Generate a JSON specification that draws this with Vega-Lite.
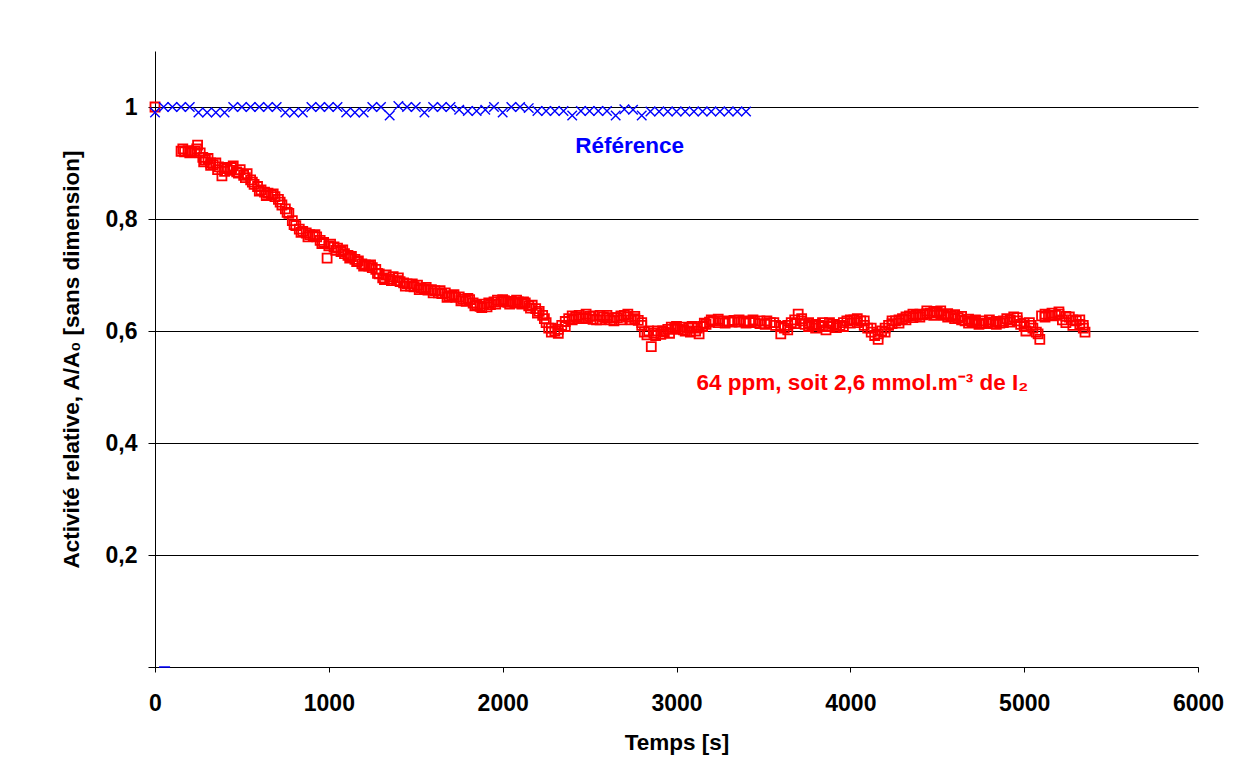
{
  "$schema": "https://vega.github.io/schema/vega-lite/v6.json",
  "width": 1043,
  "height": 616,
  "autosize": {"type": "none"},
  "padding": {"left": 155, "top": 51, "right": 40, "bottom": 116},
  "background": "white",
  "config": {
    "view": {"stroke": null},
    "font": "Liberation Sans",
    "axis": {
      "labelFont": "Liberation Sans",
      "titleFont": "Liberation Sans",
      "labelFontWeight": "bold",
      "titleFontWeight": "bold",
      "labelFontSize": 23,
      "titleFontSize": 22.5,
      "labelColor": "#000",
      "titleColor": "#000",
      "domainColor": "#000",
      "tickColor": "#000",
      "domainWidth": 1,
      "tickWidth": 1
    }
  },
  "datasets": {
    "ref": [
      {"t": 0, "a": 0.99}, {"t": 50, "a": 1.0}, {"t": 100, "a": 1.0}, {"t": 150, "a": 1.0}, {"t": 200, "a": 1.0},
      {"t": 250, "a": 0.99}, {"t": 300, "a": 0.99}, {"t": 350, "a": 0.99}, {"t": 400, "a": 0.99},
      {"t": 450, "a": 1.0}, {"t": 500, "a": 1.0}, {"t": 550, "a": 1.0}, {"t": 600, "a": 1.0}, {"t": 650, "a": 1.0}, {"t": 700, "a": 1.0},
      {"t": 750, "a": 0.99}, {"t": 800, "a": 0.99}, {"t": 850, "a": 0.99},
      {"t": 900, "a": 1.0}, {"t": 950, "a": 1.0}, {"t": 1000, "a": 1.0}, {"t": 1050, "a": 1.0},
      {"t": 1100, "a": 0.99}, {"t": 1150, "a": 0.99}, {"t": 1200, "a": 0.99},
      {"t": 1250, "a": 1.0}, {"t": 1300, "a": 1.0}, {"t": 1350, "a": 0.985},
      {"t": 1400, "a": 1.002}, {"t": 1450, "a": 1.0}, {"t": 1500, "a": 1.0}, {"t": 1550, "a": 0.99},
      {"t": 1600, "a": 1.0}, {"t": 1650, "a": 1.0}, {"t": 1700, "a": 1.0},
      {"t": 1750, "a": 0.995}, {"t": 1800, "a": 0.993}, {"t": 1850, "a": 0.993}, {"t": 1900, "a": 0.995},
      {"t": 1950, "a": 1.0}, {"t": 2000, "a": 0.99}, {"t": 2050, "a": 1.0}, {"t": 2100, "a": 1.0}, {"t": 2150, "a": 0.998},
      {"t": 2200, "a": 0.993}, {"t": 2250, "a": 0.993}, {"t": 2300, "a": 0.993}, {"t": 2350, "a": 0.993},
      {"t": 2400, "a": 0.985}, {"t": 2450, "a": 0.993}, {"t": 2500, "a": 0.993}, {"t": 2550, "a": 0.993}, {"t": 2600, "a": 0.993},
      {"t": 2650, "a": 0.985}, {"t": 2700, "a": 0.996}, {"t": 2750, "a": 0.995}, {"t": 2800, "a": 0.985},
      {"t": 2850, "a": 0.992}, {"t": 2900, "a": 0.992}, {"t": 2950, "a": 0.992}, {"t": 3000, "a": 0.992},
      {"t": 3050, "a": 0.992}, {"t": 3100, "a": 0.992}, {"t": 3150, "a": 0.992}, {"t": 3200, "a": 0.992},
      {"t": 3250, "a": 0.992}, {"t": 3300, "a": 0.992}, {"t": 3350, "a": 0.992}, {"t": 3400, "a": 0.992}
    ],
    "ref0": [{"t": 55, "a": 0}],
    "labels": [
      {"label": "Référence", "series": "ref"},
      {"label": "64 ppm, soit 2,6 mmol.m⁻³ de I₂", "series": "exp"}
    ],
    "exp": [
      {"t": 0, "a": 1.0}, {"t": 150, "a": 0.921}, {"t": 170, "a": 0.92}, {"t": 190, "a": 0.922}, {"t": 210, "a": 0.92},
      {"t": 230, "a": 0.921}, {"t": 245, "a": 0.932}, {"t": 260, "a": 0.918}, {"t": 275, "a": 0.91}, {"t": 290, "a": 0.905},
      {"t": 305, "a": 0.908}, {"t": 320, "a": 0.9}, {"t": 335, "a": 0.897}, {"t": 350, "a": 0.9}, {"t": 365, "a": 0.893},
      {"t": 385, "a": 0.877}, {"t": 400, "a": 0.892}, {"t": 415, "a": 0.89}, {"t": 430, "a": 0.887}, {"t": 450, "a": 0.895},
      {"t": 470, "a": 0.884}, {"t": 490, "a": 0.888}, {"t": 510, "a": 0.878}, {"t": 530, "a": 0.881}, {"t": 550, "a": 0.87},
      {"t": 570, "a": 0.862}, {"t": 590, "a": 0.858}, {"t": 610, "a": 0.852}, {"t": 630, "a": 0.848}, {"t": 650, "a": 0.846},
      {"t": 670, "a": 0.843}, {"t": 690, "a": 0.84}, {"t": 710, "a": 0.835}, {"t": 730, "a": 0.825}, {"t": 750, "a": 0.818},
      {"t": 770, "a": 0.81}, {"t": 790, "a": 0.797}, {"t": 810, "a": 0.788}, {"t": 830, "a": 0.782}, {"t": 850, "a": 0.778},
      {"t": 870, "a": 0.775}, {"t": 890, "a": 0.772}, {"t": 910, "a": 0.769}, {"t": 930, "a": 0.768}, {"t": 950, "a": 0.762},
      {"t": 970, "a": 0.758}, {"t": 990, "a": 0.73}, {"t": 1010, "a": 0.755}, {"t": 1030, "a": 0.75}, {"t": 1050, "a": 0.748},
      {"t": 1070, "a": 0.742}, {"t": 1090, "a": 0.738}, {"t": 1110, "a": 0.735}, {"t": 1130, "a": 0.733}, {"t": 1150, "a": 0.728},
      {"t": 1170, "a": 0.725}, {"t": 1190, "a": 0.72}, {"t": 1210, "a": 0.718}, {"t": 1230, "a": 0.716}, {"t": 1250, "a": 0.713},
      {"t": 1270, "a": 0.71}, {"t": 1290, "a": 0.702}, {"t": 1310, "a": 0.695}, {"t": 1330, "a": 0.7}, {"t": 1350, "a": 0.693},
      {"t": 1370, "a": 0.697}, {"t": 1390, "a": 0.69}, {"t": 1410, "a": 0.688}, {"t": 1430, "a": 0.686}, {"t": 1450, "a": 0.684},
      {"t": 1470, "a": 0.68}, {"t": 1490, "a": 0.679}, {"t": 1510, "a": 0.682}, {"t": 1530, "a": 0.677}, {"t": 1550, "a": 0.675},
      {"t": 1570, "a": 0.673}, {"t": 1590, "a": 0.674}, {"t": 1610, "a": 0.672}, {"t": 1630, "a": 0.668}, {"t": 1650, "a": 0.667},
      {"t": 1670, "a": 0.668}, {"t": 1690, "a": 0.663}, {"t": 1710, "a": 0.662}, {"t": 1730, "a": 0.66}, {"t": 1750, "a": 0.661},
      {"t": 1770, "a": 0.657}, {"t": 1790, "a": 0.653}, {"t": 1810, "a": 0.656}, {"t": 1830, "a": 0.65}, {"t": 1850, "a": 0.647},
      {"t": 1870, "a": 0.644}, {"t": 1890, "a": 0.648}, {"t": 1910, "a": 0.643}, {"t": 1930, "a": 0.647}, {"t": 1950, "a": 0.652},
      {"t": 1970, "a": 0.655}, {"t": 1990, "a": 0.652}, {"t": 2010, "a": 0.654}, {"t": 2030, "a": 0.651}, {"t": 2050, "a": 0.653},
      {"t": 2070, "a": 0.65}, {"t": 2090, "a": 0.652}, {"t": 2110, "a": 0.648}, {"t": 2130, "a": 0.65}, {"t": 2150, "a": 0.645},
      {"t": 2170, "a": 0.646}, {"t": 2190, "a": 0.64}, {"t": 2210, "a": 0.635}, {"t": 2230, "a": 0.628}, {"t": 2250, "a": 0.615},
      {"t": 2265, "a": 0.605}, {"t": 2280, "a": 0.598}, {"t": 2300, "a": 0.6}, {"t": 2320, "a": 0.603}, {"t": 2340, "a": 0.61},
      {"t": 2360, "a": 0.617}, {"t": 2380, "a": 0.622}, {"t": 2400, "a": 0.627}, {"t": 2420, "a": 0.625}, {"t": 2440, "a": 0.628},
      {"t": 2460, "a": 0.622}, {"t": 2480, "a": 0.624}, {"t": 2500, "a": 0.626}, {"t": 2520, "a": 0.621}, {"t": 2540, "a": 0.62},
      {"t": 2560, "a": 0.628}, {"t": 2580, "a": 0.625}, {"t": 2600, "a": 0.623}, {"t": 2620, "a": 0.62}, {"t": 2640, "a": 0.618},
      {"t": 2660, "a": 0.624}, {"t": 2680, "a": 0.627}, {"t": 2700, "a": 0.628}, {"t": 2720, "a": 0.625}, {"t": 2740, "a": 0.62},
      {"t": 2760, "a": 0.622}, {"t": 2780, "a": 0.619}, {"t": 2800, "a": 0.61}, {"t": 2815, "a": 0.598}, {"t": 2830, "a": 0.593},
      {"t": 2855, "a": 0.572}, {"t": 2870, "a": 0.596}, {"t": 2890, "a": 0.6}, {"t": 2910, "a": 0.594}, {"t": 2930, "a": 0.598},
      {"t": 2950, "a": 0.603}, {"t": 2970, "a": 0.607}, {"t": 2990, "a": 0.605}, {"t": 3010, "a": 0.603}, {"t": 3030, "a": 0.607},
      {"t": 3050, "a": 0.6}, {"t": 3070, "a": 0.605}, {"t": 3090, "a": 0.608}, {"t": 3110, "a": 0.6}, {"t": 3130, "a": 0.595},
      {"t": 3150, "a": 0.608}, {"t": 3170, "a": 0.612}, {"t": 3190, "a": 0.616}, {"t": 3210, "a": 0.618}, {"t": 3240, "a": 0.615},
      {"t": 3270, "a": 0.618}, {"t": 3300, "a": 0.617}, {"t": 3330, "a": 0.619}, {"t": 3360, "a": 0.616}, {"t": 3390, "a": 0.618},
      {"t": 3420, "a": 0.617}, {"t": 3450, "a": 0.615}, {"t": 3480, "a": 0.618}, {"t": 3510, "a": 0.612}, {"t": 3540, "a": 0.615},
      {"t": 3570, "a": 0.61}, {"t": 3600, "a": 0.595}, {"t": 3620, "a": 0.605}, {"t": 3640, "a": 0.61}, {"t": 3660, "a": 0.615},
      {"t": 3680, "a": 0.62}, {"t": 3700, "a": 0.63}, {"t": 3720, "a": 0.618}, {"t": 3740, "a": 0.612}, {"t": 3760, "a": 0.608},
      {"t": 3780, "a": 0.61}, {"t": 3800, "a": 0.605}, {"t": 3820, "a": 0.61}, {"t": 3840, "a": 0.615}, {"t": 3860, "a": 0.602},
      {"t": 3880, "a": 0.608}, {"t": 3900, "a": 0.612}, {"t": 3920, "a": 0.606}, {"t": 3940, "a": 0.61}, {"t": 3960, "a": 0.615},
      {"t": 3980, "a": 0.618}, {"t": 4000, "a": 0.614}, {"t": 4020, "a": 0.62}, {"t": 4040, "a": 0.622}, {"t": 4060, "a": 0.618},
      {"t": 4080, "a": 0.61}, {"t": 4100, "a": 0.605}, {"t": 4120, "a": 0.598}, {"t": 4140, "a": 0.592}, {"t": 4160, "a": 0.585},
      {"t": 4180, "a": 0.6}, {"t": 4200, "a": 0.605}, {"t": 4220, "a": 0.61}, {"t": 4240, "a": 0.613}, {"t": 4260, "a": 0.618},
      {"t": 4280, "a": 0.62}, {"t": 4300, "a": 0.622}, {"t": 4320, "a": 0.625}, {"t": 4340, "a": 0.627}, {"t": 4360, "a": 0.624},
      {"t": 4380, "a": 0.628}, {"t": 4400, "a": 0.63}, {"t": 4420, "a": 0.629}, {"t": 4440, "a": 0.631}, {"t": 4460, "a": 0.632},
      {"t": 4480, "a": 0.635}, {"t": 4500, "a": 0.633}, {"t": 4520, "a": 0.63}, {"t": 4540, "a": 0.628}, {"t": 4560, "a": 0.631},
      {"t": 4580, "a": 0.626}, {"t": 4600, "a": 0.629}, {"t": 4620, "a": 0.624}, {"t": 4640, "a": 0.62}, {"t": 4660, "a": 0.618},
      {"t": 4680, "a": 0.621}, {"t": 4700, "a": 0.617}, {"t": 4720, "a": 0.615}, {"t": 4740, "a": 0.612}, {"t": 4760, "a": 0.618},
      {"t": 4780, "a": 0.614}, {"t": 4800, "a": 0.616}, {"t": 4820, "a": 0.613}, {"t": 4840, "a": 0.617}, {"t": 4860, "a": 0.614},
      {"t": 4880, "a": 0.618}, {"t": 4900, "a": 0.622}, {"t": 4920, "a": 0.62}, {"t": 4940, "a": 0.625}, {"t": 4960, "a": 0.618},
      {"t": 4980, "a": 0.612}, {"t": 5000, "a": 0.608}, {"t": 5010, "a": 0.6}, {"t": 5030, "a": 0.615}, {"t": 5050, "a": 0.605},
      {"t": 5070, "a": 0.598}, {"t": 5090, "a": 0.585}, {"t": 5100, "a": 0.627}, {"t": 5120, "a": 0.63}, {"t": 5140, "a": 0.628},
      {"t": 5160, "a": 0.632}, {"t": 5180, "a": 0.628}, {"t": 5200, "a": 0.63}, {"t": 5220, "a": 0.62}, {"t": 5240, "a": 0.615},
      {"t": 5260, "a": 0.625}, {"t": 5280, "a": 0.61}, {"t": 5300, "a": 0.618}, {"t": 5320, "a": 0.612}, {"t": 5340, "a": 0.605},
      {"t": 5350, "a": 0.598},
      {"t": 160, "a": 0.925}, {"t": 200, "a": 0.918}, {"t": 240, "a": 0.925}, {"t": 280, "a": 0.902}, {"t": 320, "a": 0.896},
      {"t": 360, "a": 0.888}, {"t": 400, "a": 0.885}, {"t": 440, "a": 0.892}, {"t": 480, "a": 0.882}, {"t": 520, "a": 0.874},
      {"t": 560, "a": 0.866}, {"t": 600, "a": 0.85}, {"t": 640, "a": 0.842}, {"t": 680, "a": 0.845}, {"t": 720, "a": 0.83},
      {"t": 760, "a": 0.812}, {"t": 800, "a": 0.79}, {"t": 840, "a": 0.776}, {"t": 880, "a": 0.768}, {"t": 920, "a": 0.772},
      {"t": 960, "a": 0.756}, {"t": 1000, "a": 0.752}, {"t": 1040, "a": 0.744}, {"t": 1080, "a": 0.745}, {"t": 1120, "a": 0.73},
      {"t": 1160, "a": 0.724}, {"t": 1200, "a": 0.716}, {"t": 1240, "a": 0.718}, {"t": 1280, "a": 0.703}, {"t": 1320, "a": 0.692},
      {"t": 1360, "a": 0.69}, {"t": 1400, "a": 0.695}, {"t": 1440, "a": 0.68}, {"t": 1480, "a": 0.684}, {"t": 1520, "a": 0.674},
      {"t": 1560, "a": 0.678}, {"t": 1600, "a": 0.668}, {"t": 1640, "a": 0.672}, {"t": 1680, "a": 0.66}, {"t": 1720, "a": 0.665},
      {"t": 1760, "a": 0.654}, {"t": 1800, "a": 0.658}, {"t": 1840, "a": 0.645}, {"t": 1880, "a": 0.642}, {"t": 1920, "a": 0.65},
      {"t": 1960, "a": 0.648}, {"t": 2000, "a": 0.656}, {"t": 2040, "a": 0.648}, {"t": 2080, "a": 0.655}, {"t": 2120, "a": 0.652},
      {"t": 2160, "a": 0.641}, {"t": 2200, "a": 0.632}, {"t": 2240, "a": 0.622}, {"t": 2280, "a": 0.605}, {"t": 2320, "a": 0.596},
      {"t": 2360, "a": 0.608}, {"t": 2400, "a": 0.62}, {"t": 2440, "a": 0.622}, {"t": 2480, "a": 0.63}, {"t": 2520, "a": 0.627},
      {"t": 2560, "a": 0.62}, {"t": 2600, "a": 0.628}, {"t": 2640, "a": 0.624}, {"t": 2680, "a": 0.62}, {"t": 2720, "a": 0.63},
      {"t": 2760, "a": 0.626}, {"t": 2800, "a": 0.615}, {"t": 2840, "a": 0.6}, {"t": 2880, "a": 0.592}, {"t": 2920, "a": 0.6},
      {"t": 2960, "a": 0.596}, {"t": 3000, "a": 0.608}, {"t": 3040, "a": 0.602}, {"t": 3080, "a": 0.598}, {"t": 3120, "a": 0.605},
      {"t": 3160, "a": 0.614}, {"t": 3200, "a": 0.62}, {"t": 3240, "a": 0.621}, {"t": 3280, "a": 0.614}, {"t": 3320, "a": 0.616},
      {"t": 3360, "a": 0.62}, {"t": 3400, "a": 0.614}, {"t": 3440, "a": 0.62}, {"t": 3480, "a": 0.613}, {"t": 3520, "a": 0.618},
      {"t": 3560, "a": 0.615}, {"t": 3600, "a": 0.608}, {"t": 3640, "a": 0.602}, {"t": 3680, "a": 0.613}, {"t": 3720, "a": 0.622},
      {"t": 3760, "a": 0.615}, {"t": 3800, "a": 0.612}, {"t": 3840, "a": 0.608}, {"t": 3880, "a": 0.615}, {"t": 3920, "a": 0.61},
      {"t": 3960, "a": 0.608}, {"t": 4000, "a": 0.62}, {"t": 4040, "a": 0.615}, {"t": 4080, "a": 0.618}, {"t": 4120, "a": 0.605},
      {"t": 4160, "a": 0.595}, {"t": 4200, "a": 0.598}, {"t": 4240, "a": 0.618}, {"t": 4280, "a": 0.614}, {"t": 4320, "a": 0.62},
      {"t": 4360, "a": 0.63}, {"t": 4400, "a": 0.625}, {"t": 4440, "a": 0.636}, {"t": 4480, "a": 0.628}, {"t": 4520, "a": 0.636},
      {"t": 4560, "a": 0.625}, {"t": 4600, "a": 0.622}, {"t": 4640, "a": 0.626}, {"t": 4680, "a": 0.614}, {"t": 4720, "a": 0.62},
      {"t": 4760, "a": 0.613}, {"t": 4800, "a": 0.62}, {"t": 4840, "a": 0.612}, {"t": 4880, "a": 0.615}, {"t": 4920, "a": 0.616},
      {"t": 4960, "a": 0.624}, {"t": 5000, "a": 0.614}, {"t": 5040, "a": 0.61}, {"t": 5080, "a": 0.595}, {"t": 5120, "a": 0.625},
      {"t": 5160, "a": 0.627}, {"t": 5200, "a": 0.634}, {"t": 5240, "a": 0.626}, {"t": 5280, "a": 0.62}, {"t": 5320, "a": 0.62},
      {"t": 5340, "a": 0.61}
    ]
  },
  "layer": [
    {
      "data": {"name": "exp"},
      "mark": {"type": "point", "shape": "square", "filled": false, "stroke": "#ff0000", "strokeWidth": 1.8, "size": 81, "opacity": 1},
      "encoding": {
        "x": {
          "field": "t", "type": "quantitative",
          "scale": {"domain": [0, 6000], "nice": false, "zero": true},
          "axis": {
            "values": [0, 1000, 2000, 3000, 4000, 5000, 6000],
            "format": "d",
            "grid": false,
            "tickSize": 5,
            "labelFlush": false,
            "labelPadding": 20,
            "title": "Temps [s]",
            "titlePadding": 16
          }
        },
        "y": {
          "field": "a", "type": "quantitative",
          "scale": {"domain": [0, 1.1], "nice": false, "zero": true},
          "axis": {
            "values": [0, 0.2, 0.4, 0.6, 0.8, 1],
            "labelExpr": "datum.value == 0 ? '' : replace(format(datum.value, '.1~f'), '.', ',')",
            "grid": true,
            "gridColor": "#000",
            "gridWidth": 1,
            "gridOpacity": 1,
            "tickSize": 7,
            "labelPadding": 11,
            "title": "Activité relative, A/A₀ [sans dimension]",
            "titlePadding": 22
          }
        }
      }
    },
    {
      "data": {"name": "ref"},
      "mark": {"type": "point", "shape": "M-1,-1L1,1M-1,1L1,-1", "filled": false, "stroke": "#0000ff", "strokeWidth": 1.4, "size": 90, "opacity": 1},
      "encoding": {
        "x": {"field": "t", "type": "quantitative"},
        "y": {"field": "a", "type": "quantitative"}
      }
    },
    {
      "data": {"name": "ref0"},
      "mark": {"type": "point", "shape": "stroke", "filled": false, "stroke": "#0000ff", "strokeWidth": 1.5, "size": 121, "opacity": 1},
      "encoding": {
        "x": {"field": "t", "type": "quantitative"},
        "y": {"field": "a", "type": "quantitative"}
      }
    },
    {
      "data": {"name": "labels"},
      "transform": [{"filter": "datum.series == 'ref'"}],
      "mark": {"type": "text", "color": "#0000ff", "fontWeight": "bold", "fontSize": 22.5, "font": "Liberation Sans", "align": "center", "baseline": "middle"},
      "encoding": {
        "text": {"field": "label", "type": "nominal"},
        "x": {"datum": 2730, "type": "quantitative"},
        "y": {"datum": 0.93, "type": "quantitative"}
      }
    },
    {
      "data": {"name": "labels"},
      "transform": [{"filter": "datum.series == 'exp'"}],
      "mark": {"type": "text", "color": "#ff0000", "fontWeight": "bold", "fontSize": 22.5, "font": "Liberation Sans", "align": "left", "baseline": "middle"},
      "encoding": {
        "text": {"field": "label", "type": "nominal"},
        "x": {"datum": 3115, "type": "quantitative"},
        "y": {"datum": 0.507, "type": "quantitative"}
      }
    }
  ]
}
